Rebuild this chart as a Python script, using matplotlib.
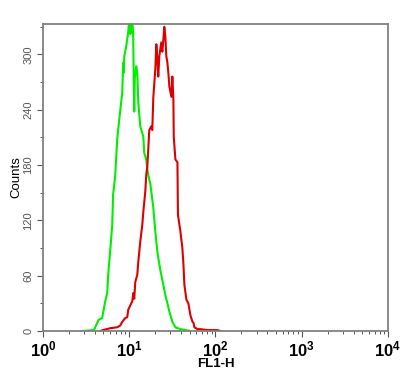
import matplotlib
matplotlib.use("Agg")
import matplotlib.pyplot as plt
from matplotlib.ticker import LogLocator, MultipleLocator, FixedLocator, NullFormatter

plt.rcParams['font.family'] = ['Liberation Sans', 'DejaVu Sans']
plt.rcParams['mathtext.fontset'] = 'custom'
plt.rcParams['mathtext.rm'] = 'Liberation Sans'
plt.rcParams['mathtext.bf'] = 'Liberation Sans:bold'

# Green (control) histogram: FL1-H value, counts
green_fl1 = [2.9, 3.9, 4.4, 4.85, 5.26, 5.55, 5.7, 6.0, 6.35, 6.5, 6.87, 7.25, 7.65,
             8.3, 8.5, 8.65, 8.75, 9.23, 9.73, 10.0, 10.3, 10.55, 10.83, 11.13, 11.3,
             11.43, 11.6, 12.06, 12.39, 12.73, 13.42, 14.55, 14.94, 15.76, 16.19,
             17.08, 17.54, 19.0, 20.05, 21.17, 22.92, 24.85, 26.2, 27.7, 29.2, 31.6,
             34.3, 39.2, 44.8, 51.0]
green_counts = [0, 1, 12, 14, 32, 41, 61, 86, 115, 148, 168, 208, 229,
                259, 291, 280, 298, 309, 324, 340, 322, 330, 345, 316, 265,
                238, 275, 287, 280, 248, 222, 211, 193, 186, 175,
                164, 160, 134, 108, 86, 66, 50, 39, 30, 21, 10,
                4, 2, 1, 0]

# Red (stained) histogram: FL1-H value, counts
red_fl1 = [4.6, 4.98, 6.0, 7.25, 7.86, 8.3, 8.98, 9.48, 9.73, 10.55, 10.83, 11.13,
           11.43, 11.74, 12.39, 12.73, 13.42, 14.16, 14.55, 15.34, 15.76, 16.19,
           16.6, 17.08, 18.0, 18.5, 19.0, 20.05, 20.6, 21.17, 21.7, 22.3, 23.5,
           24.2, 24.85, 25.5, 26.2, 26.9, 27.7, 28.4, 29.2, 30.8, 31.6, 32.5,
           32.8, 34.3, 36.2, 36.7, 39.2, 41.3, 42.5, 43.6, 46.0, 48.5, 51.2, 54.1,
           55.5, 57.0, 61.8, 66.9, 80.7, 105.0, 114.0]
red_counts = [0, 1, 3, 4, 6, 10, 14, 15, 23, 30, 32, 41,
              35, 53, 61, 75, 97, 115, 129, 151, 170, 178,
              197, 218, 222, 218, 253, 284, 311, 295, 276, 298, 313,
              303, 316, 330, 320, 298, 291, 280, 265, 254, 276, 251,
              211, 186, 183, 126, 108, 90, 72, 50, 34, 30, 17, 10,
              9, 4, 2, 2, 1, 1, 0]

x_ticks = [1, 10, 100, 1000, 10000]
x_tick_labels = [r'$\mathbf{10^{0}}$', r'$\mathbf{10^{1}}$', r'$\mathbf{10^{2}}$',
                 r'$\mathbf{10^{3}}$', r'$\mathbf{10^{4}}$']
y_ticks = [0, 60, 120, 180, 240, 300]

fig = plt.figure(figsize=(4.13, 3.75), dpi=100)
ax = fig.add_axes([43/413, 1-331/375, (388-43)/413, (331-24)/375])

ax.plot(green_fl1, green_counts, color='#00ee00', lw=1.5)
ax.plot(red_fl1, red_counts, color='#dd0000', lw=1.5)

ax.set_xscale('log')
ax.set_xlim(1, 10000)
ax.set_ylim(0, 333)

ax.xaxis.set_major_locator(FixedLocator(x_ticks))
ax.set_xticklabels(x_tick_labels, fontsize=12)
ax.xaxis.set_minor_locator(LogLocator(base=10, subs=range(2, 10)))
ax.xaxis.set_minor_formatter(NullFormatter())

ax.yaxis.set_major_locator(FixedLocator(y_ticks))
ax.set_yticklabels([str(v) for v in y_ticks], rotation=90, va='center',
                   fontsize=8, color='#555555')
ax.yaxis.set_minor_locator(MultipleLocator(30))

for s in ax.spines.values():
    s.set_color('#808080')
    s.set_linewidth(1.3)

ax.tick_params(axis='both', which='major', length=4, width=0.8, color='#555555', pad=3)
ax.tick_params(axis='both', which='minor', length=2.5, width=0.7, color='#555555')
ax.tick_params(axis='x', which='major', pad=2)

ax.set_xlabel('FL1-H', fontsize=9.5, fontweight='bold', labelpad=-1)
ax.set_ylabel('Counts', fontsize=9.5, labelpad=1)

fig.savefig('out.png', dpi=100)
